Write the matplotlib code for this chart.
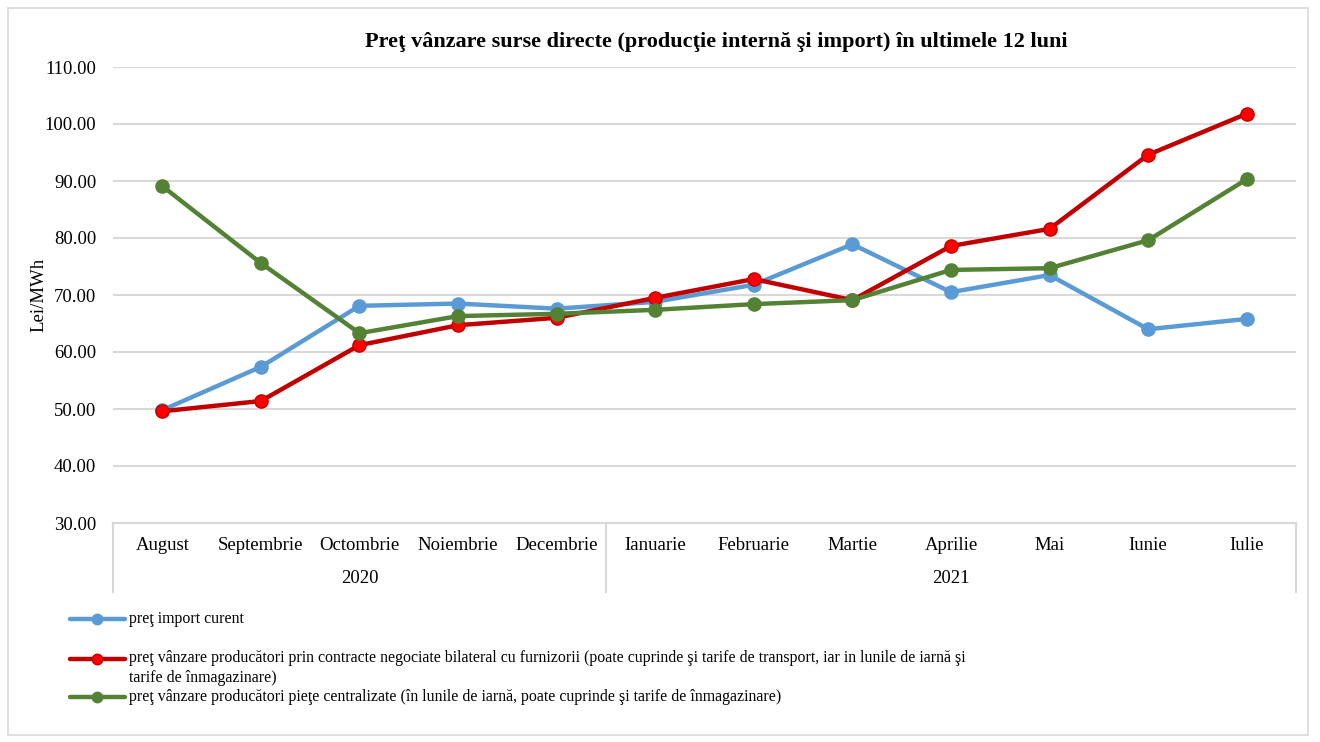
import matplotlib.pyplot as plt
from matplotlib.lines import Line2D
from matplotlib.patches import Rectangle

plt.rcParams['font.family'] = ['Liberation Serif', 'DejaVu Serif']

# data
months = ["August", "Septembrie", "Octombrie", "Noiembrie", "Decembrie",
          "Ianuarie", "Februarie", "Martie", "Aprilie", "Mai", "Iunie", "Iulie"]
years = ["2020", "2021"]
months_per_year = [5, 7]

import_curent = [49.8, 57.4, 68.1, 68.5, 67.6, 68.8, 71.8, 78.9, 70.5, 73.5, 64.0, 65.8]
contracte_bilaterale = [49.6, 51.4, 61.2, 64.7, 66.0, 69.5, 72.8, 69.1, 78.6, 81.6, 94.6, 101.8]
piete_centralizate = [89.1, 75.6, 63.3, 66.3, 66.7, 67.4, 68.4, 69.1, 74.4, 74.7, 79.6, 90.3]

labels = [
    "preţ import curent",
    "preţ vânzare producători prin contracte negociate bilateral cu furnizorii (poate cuprinde şi tarife de transport, iar in lunile de iarnă şi\ntarife de înmagazinare)",
    "preţ vânzare producători pieţe centralizate (în lunile de iarnă, poate cuprinde şi tarife de înmagazinare)",
]

W, H = 1320, 742
fig = plt.figure(figsize=(13.2, 7.42), dpi=100)

def fx(px):
    return px / W

def fy(py):
    return 1 - py / H

# outer frame
fig.add_artist(Rectangle((fx(8), fy(735)), fx(1308) - fx(8), fy(8) - fy(735),
                         transform=fig.transFigure, fill=False, edgecolor="#D9D9D9", lw=1.2))

ax = fig.add_axes([fx(113), fy(523), fx(1296) - fx(113), fy(67) - fy(523)])

x = list(range(len(months)))
series = [
    (import_curent, "#5B9BD5", "#5B9BD5"),
    (contracte_bilaterale, "#C00000", "#FF0000"),
    (piete_centralizate, "#548235", "#548235"),
]
for vals, lc, fc in series:
    ax.plot(x, vals, color=lc, lw=3.2, marker="o", markersize=9.5,
            markerfacecolor=fc, markeredgecolor=lc, markeredgewidth=1.0,
            solid_capstyle="round")

ax.set_xlim(-0.5, len(months) - 0.5)
ax.set_ylim(30, 110)
ax.set_yticks(range(30, 111, 10))
ax.set_yticklabels([f"{v:.2f}" for v in range(30, 111, 10)], fontsize=13.5)
ax.yaxis.grid(True, color="#D9D9D9", lw=1.5)
ax.set_axisbelow(True)
ax.tick_params(axis="y", length=0, pad=12)
ax.set_xticks([])
for s in ["top", "right", "left"]:
    ax.spines[s].set_visible(False)
ax.spines["bottom"].set_color("#D9D9D9")
ax.spines["bottom"].set_linewidth(1.5)
ax.set_ylabel("Lei/MWh", fontsize=13.5, labelpad=-2)

# two-level category axis
tr = ax.get_xaxis_transform()
for i, m in enumerate(months):
    ax.text(i, -0.05, m, transform=tr, ha="center", va="center", fontsize=13.5)
start = 0
bounds = [-0.5]
for yr, n in zip(years, months_per_year):
    ax.text(start + (n - 1) / 2, -0.122, yr, transform=tr, ha="center", va="center", fontsize=13.5)
    start += n
    bounds.append(start - 0.5)
for b in bounds:
    ax.plot([b, b], [0, -0.152], transform=tr, color="#D9D9D9", lw=1.5, clip_on=False)

fig.text(fx(716), fy(42), "Preţ vânzare surse directe (producţie internă şi import) în ultimele 12 luni",
         ha="center", va="center", fontsize=16, fontweight="bold")

# legend
leg_y = [619, 659, 697]
for (vals, lc, fc), lab, py in zip(series, labels, leg_y):
    fig.add_artist(Line2D([fx(70), fx(125)], [fy(py), fy(py)], transform=fig.transFigure,
                          color=lc, lw=3.2, solid_capstyle="round"))
    fig.add_artist(Line2D([fx(97)], [fy(py)], transform=fig.transFigure, marker="o",
                          markersize=7.5, markerfacecolor=fc, markeredgecolor=lc))
    if "\n" in lab:
        fig.text(fx(129), fy(py - 9), lab, ha="left", va="top", fontsize=11.4, linespacing=1.3)
    else:
        fig.text(fx(129), fy(py), lab, ha="left", va="center", fontsize=11.4)

fig.savefig("out.png", dpi=100)
